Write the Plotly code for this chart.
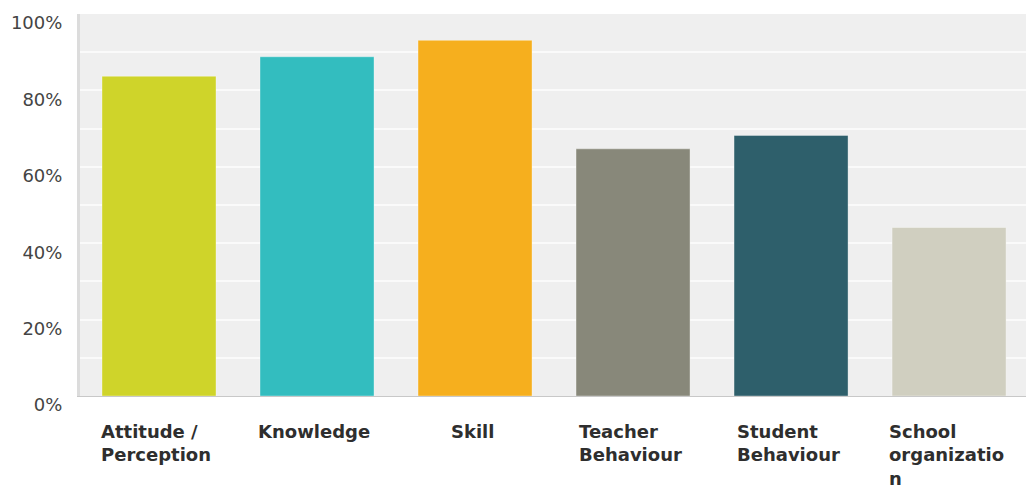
import plotly.graph_objects as go

# Survey categories and share of respondents (%)
categories = ["Attitude / Perception", "Knowledge", "Skill",
              "Teacher Behaviour", "Student Behaviour", "School organization"]
label_lines = ["Attitude /<br>Perception", "Knowledge", "Skill",
               "Teacher<br>Behaviour", "Student<br>Behaviour", "School<br>organizatio<br>n"]
values = [83.7, 88.8, 93.1, 64.7, 68.2, 44.1]
bar_colors = ["#CFD42A", "#33BDBF", "#F6AF1E", "#88887A", "#2E5F6B", "#D0CFC0"]

y_ticks = [0, 20, 40, 60, 80, 100]
y_tick_text = [f"{t}%" for t in y_ticks]

fig = go.Figure(
    go.Bar(
        x=categories,
        y=values,
        marker=dict(color=bar_colors, line=dict(color="rgba(255,255,255,0.35)", width=1)),
        hoverinfo="x+y",
    )
)

for cat, txt in zip(categories, label_lines):
    fig.add_annotation(
        x=cat, xref="x", y=0, yref="paper",
        text=f"<b>{txt}</b>", showarrow=False,
        xanchor="center", yanchor="top", align="left",
        xshift=-3, yshift=-23,
        font=dict(family="DejaVu Sans", size=18, color="#2E2E2E"),
    )

fig.update_layout(
    width=1026, height=492,
    margin=dict(l=80, r=0, t=14, b=96),
    paper_bgcolor="white",
    plot_bgcolor="#EFEFEF",
    bargap=0.2785,
    showlegend=False,
    font=dict(family="DejaVu Sans", size=18, color="#444444"),
)

fig.update_xaxes(
    range=[-0.5, 5.487],
    showticklabels=False,
    showgrid=False,
    showline=True, linecolor="#C8C8C8", linewidth=1,
    zeroline=False,
)

fig.update_yaxes(
    range=[0, 100],
    tickvals=y_ticks, ticktext=y_tick_text,
    tickfont=dict(family="DejaVu Sans", size=18, color="#444444"),
    ticklabelstandoff=11,
    ticklabelshift=9,
    showgrid=True, gridcolor="#FAFAFA", gridwidth=2,
    minor=dict(dtick=10, showgrid=True, gridcolor="#FAFAFA", gridwidth=2),
    showline=True, linecolor="#DCDCDC", linewidth=3,
    zeroline=False,
    ticks="",
)

fig.write_html("out.html")
